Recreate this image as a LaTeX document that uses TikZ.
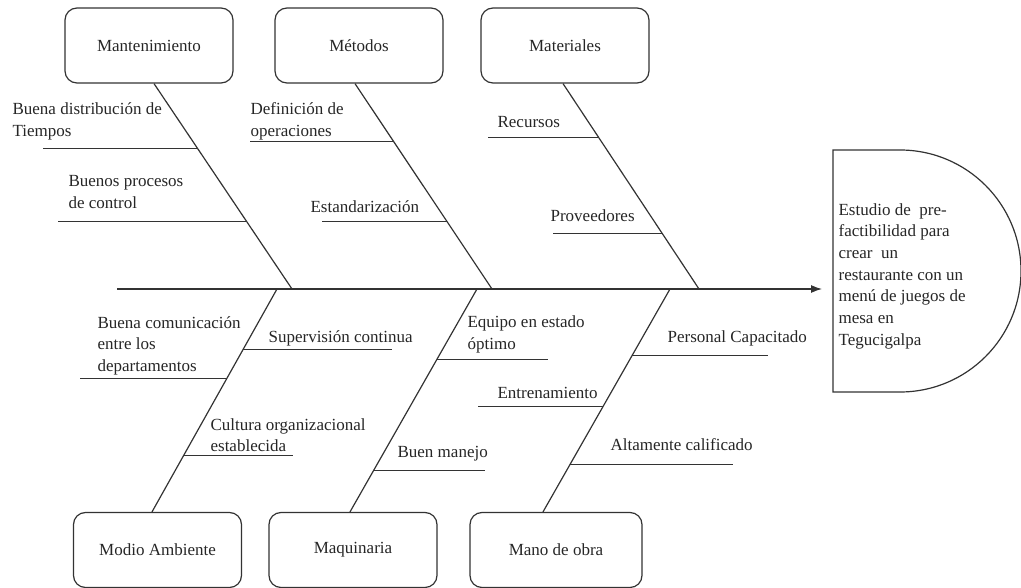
\documentclass[tikz,border=0pt]{standalone}
\usepackage{fontspec}
\setmainfont{Liberation Serif}
\usetikzlibrary{calc,arrows.meta}
\begin{document}
\begin{tikzpicture}[x=1pt,y=-1pt,
  line width=1.2pt,
  every node/.style={font=\fontsize{17}{21.5}\selectfont, text=black!85},
  cat/.style={draw=black!80, rounded corners=12pt, minimum width=168pt, minimum height=75pt, inner sep=0pt},
  lbl/.style={anchor=base west, align=left, inner sep=0pt},
  bone/.style={draw=black!80, line width=1.2pt}]
\useasboundingbox (0,0) rectangle (1021,588);

% category boxes
\node[cat] (mant) at (149,45.5) {Mantenimiento};
\node[cat] (met)  at (359,45.5) {Métodos};
\node[cat] (mat)  at (565,45.5) {Materiales};
\node[cat] (modio) at (157.5,550) {Modio Ambiente};
\node[cat] (maq)  at (353,550) {Maquinaria};
\node[cat, minimum width=172pt] (mano) at (556,550) {Mano de obra};

% effect (base anchor = last line)
\node[lbl, font=\fontsize{17}{21.7}\selectfont] (eff) at (838,345.2)
  {Estudio de~~pre-\\factibilidad para\\crear~~un\\restaurante con un\\menú de juegos de\\mesa en\\Tegucigalpa};
\draw[bone] (833,150) -- (900,150) arc[start angle=90, end angle=-90, radius=121pt] -- (833,392) -- cycle;

% main spine
\coordinate (tail) at (117,289);
\coordinate (head) at (822,289);
\draw[bone, -{Latex[length=11pt,width=8pt]}] (tail) -- (head);

% junctions
\coordinate (jt1) at (292,289);
\coordinate (jt2) at (492,289);
\coordinate (jt3) at (699,289);
\coordinate (jb1) at (277,289);
\coordinate (jb2) at (477,289);
\coordinate (jb3) at (670,289);

% top bones
\draw[bone] ([xshift=5pt]mant.south) -- (jt1)
  coordinate[pos=0.316] (m1) coordinate[pos=0.670] (m2);
\draw[bone] ([xshift=-4pt]met.south) -- (jt2)
  coordinate[pos=0.283] (d1) coordinate[pos=0.673] (d2);
\draw[bone] ([xshift=-2pt]mat.south) -- (jt3)
  coordinate[pos=0.262] (r1) coordinate[pos=0.728] (r2);

% bottom bones
\draw[bone] (jb1) -- ([xshift=-5.5pt]modio.north)
  coordinate[pos=0.272] (a1) coordinate[pos=0.402] (a2) coordinate[pos=0.746] (a3);
\draw[bone] (jb2) -- ([xshift=-3pt]maq.north)
  coordinate[pos=0.317] (q1) coordinate[pos=0.8125] (q2);
\draw[bone] (jb3) -- ([xshift=-13pt]mano.north)
  coordinate[pos=0.299] (o1) coordinate[pos=0.527] (o2) coordinate[pos=0.786] (o3);

% sub-bones
\draw[bone] (m1) -- ++(-155,0);
\draw[bone] (m2) -- ++(-188.5,0);
\draw[bone] (d1) -- ++(-144,0);
\draw[bone] (d2) -- ++(-125,0);
\draw[bone] (r1) -- ++(-110.6,0);
\draw[bone] (r2) -- ++(-109,0);
\draw[bone] (a1) -- ++(149,0);
\draw[bone] (a2) -- ++(-147,0);
\draw[bone] (a3) -- ++(109,0);
\draw[bone] (q1) -- ++(111,0);
\draw[bone] (q2) -- ++(111,0);
\draw[bone] (o1) -- ++(136,0);
\draw[bone] (o2) -- ++(-125,0);
\draw[bone] (o3) -- ++(163,0);

% labels (base anchor = baseline of last line)
\node[lbl] (t1) at (12,136.5) {Buena distribución de\\Tiempos};
\node[lbl] (t2) at (68,208.5) {Buenos procesos\\de control};
\node[lbl] (t3) at (250,136.5) {Definición de\\operaciones};
\node[lbl] (t4) at (310,213) {Estandarización};
\node[lbl] (t5) at (497,128) {Recursos};
\node[lbl] (t6) at (550,222) {Proveedores};
\node[lbl] (b1) at (97,371) {Buena comunicación\\entre los\\departamentos};
\node[lbl] (b2) at (268,343) {Supervisión continua};
\node[lbl] (b3) at (210,451.5) {Cultura organizacional\\establecida};
\node[lbl] (b4) at (467,349.5) {Equipo en estado\\óptimo};
\node[lbl] (b5) at (397,457) {Buen manejo};
\node[lbl] (b6) at (667,343) {Personal Capacitado};
\node[lbl] (b7) at (497,398) {Entrenamiento};
\node[lbl] (b8) at (610,450) {Altamente calificado};
\end{tikzpicture}
\end{document}
